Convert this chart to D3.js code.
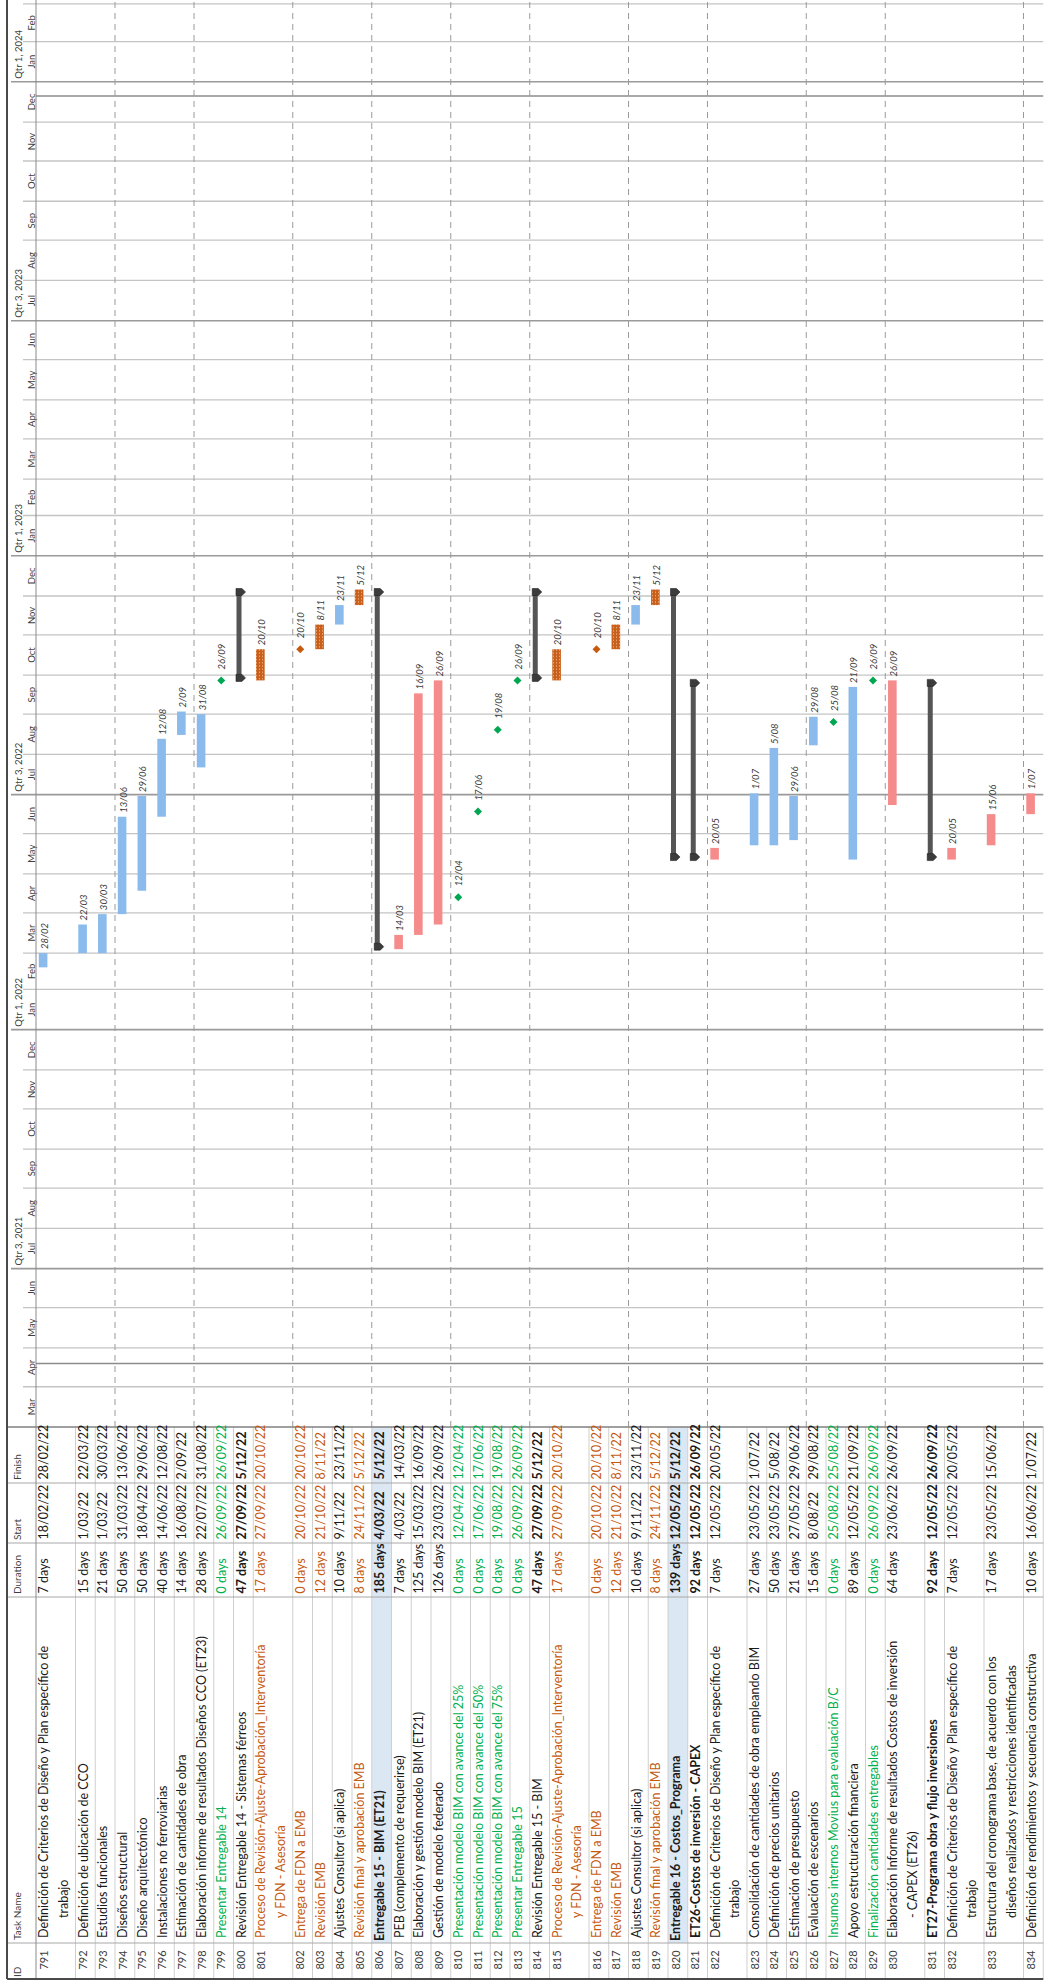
<!DOCTYPE html>
<html>
<head>
<meta charset="utf-8">
<script src="https://cdn.jsdelivr.net/npm/d3@7"></script>
<style>
  body { margin: 0; background: #fff; }
  svg { display: block; }
  text { font-family: Lato, "Liberation Sans", sans-serif; }
</style>
</head>
<body>
<script>
// task table, one entry per row
const ids = [791,792,793,794,795,796,797,798,799,800,801,802,803,804,805,806,807,808,809,810,811,812,813,814,815,816,817,818,819,820,821,822,823,824,825,826,827,828,829,830,831,832,833,834];
const names = [
  "Definición de Criterios de Diseño y Plan específico de", "Definición de ubicación de CCO", "Estudios funcionales",
  "Diseños estructural", "Diseño arquitectónico", "Instalaciones no ferroviarias", "Estimación de cantidades de obra",
  "Elaboración informe de resultados Diseños CCO (ET23)", "Presentar Entregable 14", "Revisión Entregable 14 - Sistemas férreos",
  "Proceso de Revisión-Ajuste-Aprobación_Interventoría", "Entrega de FDN a EMB", "Revisión EMB", "Ajustes Consultor (si aplica)",
  "Revisión final y aprobación EMB", "Entregable 15 - BIM (ET21)", "PEB (complemento de requerirse)",
  "Elaboración y gestión modelo BIM (ET21)", "Gestión de modelo federado", "Presentación modelo BIM con avance del 25%",
  "Presentación modelo BIM con avance del 50%", "Presentación modelo BIM con avance del 75%", "Presentar Entregable 15",
  "Revisión Entregable 15 - BIM", "Proceso de Revisión-Ajuste-Aprobación_Interventoría", "Entrega de FDN a EMB", "Revisión EMB",
  "Ajustes Consultor (si aplica)", "Revisión final y aprobación EMB", "Entregable 16 - Costos_Programa",
  "ET26-Costos de inversión - CAPEX", "Definición de Criterios de Diseño y Plan específico de",
  "Consolidación de cantidades de obra empleando BIM", "Definición de precios unitarios", "Estimación de presupuesto",
  "Evaluación de escenarios", "Insumos internos Movius para evaluación B/C", "Apoyo estructuración financiera",
  "Finalización cantidades entregables", "Elaboración Informe de resultados Costos de inversión",
  "ET27-Programa obra y flujo inversiones", "Definición de Criterios de Diseño y Plan específico de",
  "Estructura del cronograma base, de acuerdo con los", "Definición de rendimientos y secuencia constructiva"
];
// second line of wrapped names
const names2 = {791: "trabajo", 801: "y FDN - Asesoría", 815: "y FDN - Asesoría", 822: "trabajo",
  830: "- CAPEX (ET26)", 832: "trabajo", 833: "diseños realizados y restricciones identificadas"};
const durations = ["7 days","15 days","21 days","50 days","50 days","40 days","14 days","28 days","0 days","47 days",
  "17 days","0 days","12 days","10 days","8 days","185 days","7 days","125 days","126 days","0 days","0 days","0 days",
  "0 days","47 days","17 days","0 days","12 days","10 days","8 days","139 days","92 days","7 days","27 days","50 days",
  "21 days","15 days","0 days","89 days","0 days","64 days","92 days","7 days","17 days","10 days"];
const starts = ["18/02/22","1/03/22","1/03/22","31/03/22","18/04/22","14/06/22","16/08/22","22/07/22","26/09/22","27/09/22",
  "27/09/22","20/10/22","21/10/22","9/11/22","24/11/22","4/03/22","4/03/22","15/03/22","23/03/22","12/04/22","17/06/22",
  "19/08/22","26/09/22","27/09/22","27/09/22","20/10/22","21/10/22","9/11/22","24/11/22","12/05/22","12/05/22","12/05/22",
  "23/05/22","23/05/22","27/05/22","8/08/22","25/08/22","12/05/22","26/09/22","23/06/22","12/05/22","12/05/22","23/05/22",
  "16/06/22"];
const finishes = ["28/02/22","22/03/22","30/03/22","13/06/22","29/06/22","12/08/22","2/09/22","31/08/22","26/09/22","5/12/22",
  "20/10/22","20/10/22","8/11/22","23/11/22","5/12/22","5/12/22","14/03/22","16/09/22","26/09/22","12/04/22","17/06/22",
  "19/08/22","26/09/22","5/12/22","20/10/22","20/10/22","8/11/22","23/11/22","5/12/22","5/12/22","26/09/22","20/05/22",
  "1/07/22","5/08/22","29/06/22","29/08/22","25/08/22","21/09/22","26/09/22","26/09/22","26/09/22","20/05/22","15/06/22",
  "1/07/22"];
// b blue task, p pink task, h hatched review task, g green milestone, o orange milestone, s summary
const kinds = ["b","b","b","b","b","b","b","b","g","s","h","o","h","b","h","s","p","p","p","g","g","g","g","s","h","o",
  "h","b","h","s","s","p","b","b","b","b","g","b","g","p","s","p","p","p"];
const greenRows = [799,810,811,812,813,827,829];
const orangeRows = [801,802,803,805,815,816,817,819];
const boldDateRows = [800,814];
const boldRows = [806,820,821,831];
const highlightRows = [806,820];
const pageBreakAfter = [793,797,801,805,809,813,817,821,825,829,833];
const timeBreaks = ["2021-04-19","2023-12-21"];
const colHeaders = ["ID","Task Name","Duration","Start","Finish"];

// drawing is done sideways, then the whole group is turned
const W = 1986, H = 1045;
const colX = [7, 43, 389, 443, 503, 559];
const pitch = 19.75, rowStart = 36, bottomY = rowStart + 51 * pitch;

const parse = d3.timeParse("%d/%m/%y");
const x = d3.scaleTime()
  .domain([new Date(2021, 2, 1), new Date(2024, 2, 4)])
  .range([559, W]);

const rows = ids.map((id, i) => ({
  id, name: names[i], name2: names2[id] || "", dur: durations[i],
  start: starts[i], finish: finishes[i], kind: kinds[i],
  s: parse(starts[i]), f: d3.timeDay.offset(parse(finishes[i]), 1)
}));
let yy = rowStart;
rows.forEach(r => { r.top = yy; r.h = (r.name2 ? 2 : 1) * pitch; yy += r.h; });

const svg = d3.select("body").append("svg")
  .attr("width", H).attr("height", W);

const defs = svg.append("defs");
const pat = defs.append("pattern").attr("id", "hatch")
  .attr("patternUnits", "userSpaceOnUse").attr("width", 3.2).attr("height", 3);
pat.append("rect").attr("width", 3.2).attr("height", 3).attr("fill", "#c8601c");
pat.append("rect").attr("x", 1).attr("y", 1).attr("width", 1.2).attr("height", 1).attr("fill", "#f3b48a");

const g = svg.append("g").attr("transform", "translate(0," + W + ") rotate(-90)");

// highlighted summary rows
g.selectAll(".hl").data(rows.filter(r => highlightRows.includes(r.id)))
  .enter().append("rect")
  .attr("x", colX[1]).attr("width", colX[5] - colX[1])
  .attr("y", r => r.top).attr("height", r => r.h)
  .attr("fill", "#dce7f4");

// month grid
const months = d3.timeMonth.range(new Date(2021, 3, 1), x.domain()[1]);
g.selectAll(".mline").data(months).enter().append("line")
  .attr("x1", d => x(d)).attr("x2", d => x(d))
  .attr("y1", d => d.getMonth() % 6 === 0 ? 11 : 23).attr("y2", bottomY)
  .attr("stroke", d => d.getMonth() % 6 === 0 ? "#9a9a9a" : "#c4c4c4")
  .attr("stroke-width", d => d.getMonth() % 6 === 0 ? 1.6 : 1.3);

// page break lines
g.selectAll(".tb").data(timeBreaks).enter().append("line")
  .attr("x1", d => x(new Date(d))).attr("x2", d => x(new Date(d)))
  .attr("y1", 36).attr("y2", bottomY)
  .attr("stroke", "#8c8c8c").attr("stroke-width", 1.5);

g.selectAll(".pb").data(rows.filter(r => pageBreakAfter.includes(r.id)))
  .enter().append("line")
  .attr("x1", 559).attr("x2", W)
  .attr("y1", r => r.top + r.h).attr("y2", r => r.top + r.h)
  .attr("stroke", "#9a9a9a").attr("stroke-dasharray", "6,5");

// timescale labels
const allMonths = d3.timeMonth.range(new Date(2021, 2, 1), x.domain()[1]);
g.selectAll(".mlab").data(allMonths.filter(d => x(d3.timeMonth.offset(d, 1)) < W + 5))
  .enter().append("text")
  .attr("x", d => (x(d) + Math.min(W, x(d3.timeMonth.offset(d, 1)))) / 2)
  .attr("y", 34.5).attr("text-anchor", "middle")
  .attr("font-size", 9.5).attr("fill", "#404040")
  .text(d3.timeFormat("%b"));

const halves = d3.timeMonth.every(6).range(new Date(2021, 2, 1), x.domain()[1]);
g.selectAll(".qlab").data(halves).enter().append("text")
  .attr("x", d => x(d) + 3).attr("y", 21.5)
  .attr("font-size", 9.5).attr("fill", "#404040")
  .text(d => "Qtr " + (Math.floor(d.getMonth() / 3) + 1) + ", " + d.getFullYear());

// table lines
g.selectAll(".rline").data(rows).enter().append("line")
  .attr("x1", colX[0]).attr("x2", colX[5])
  .attr("y1", r => r.top + r.h).attr("y2", r => r.top + r.h)
  .attr("stroke", "#cfcfcf");
g.selectAll(".cline").data(colX.slice(1, 5)).enter().append("line")
  .attr("x1", d => d).attr("x2", d => d).attr("y1", 7).attr("y2", bottomY)
  .attr("stroke", "#a8a8a8");
g.append("line").attr("x1", 559).attr("x2", 559).attr("y1", 7).attr("y2", bottomY)
  .attr("stroke", "#808080").attr("stroke-width", 1.5);
g.append("line").attr("x1", 7).attr("x2", W).attr("y1", 36).attr("y2", 36)
  .attr("stroke", "#8a8a8a");
g.append("line").attr("x1", 7).attr("x2", W).attr("y1", 7).attr("y2", 7)
  .attr("stroke", "#4a4a4a").attr("stroke-width", 2);
g.append("line").attr("x1", 7).attr("x2", 7).attr("y1", 7).attr("y2", bottomY)
  .attr("stroke", "#4a4a4a").attr("stroke-width", 2);

// column headers
g.selectAll(".hdr").data(colHeaders).enter().append("text")
  .attr("x", (d, i) => colX[i] + (i === 0 ? 2 : 3)).attr("y", 21)
  .attr("font-size", 10).attr("fill", "#404040")
  .text(d => d);

// cell text
function txtColor(r) {
  if (greenRows.includes(r.id)) return "#00b050";
  if (orangeRows.includes(r.id)) return "#c55a11";
  return "#1a1a1a";
}
const cells = g.selectAll(".cell").data(rows).enter().append("g");
cells.append("text").attr("x", 26).attr("y", r => r.top + 11.5)
  .attr("text-anchor", "middle").attr("font-size", 11).attr("fill", "#404040")
  .text(r => r.id);
cells.append("text").attr("x", r => highlightRows.includes(r.id) ? 45 : 48).attr("y", r => r.top + 12)
  .attr("font-size", 12.5).attr("fill", txtColor)
  .attr("font-weight", r => boldRows.includes(r.id) ? 700 : 400)
  .text(r => r.name);
cells.filter(r => r.name2).append("text").attr("x", 68).attr("y", r => r.top + 12 + pitch)
  .attr("font-size", 12.5).attr("fill", txtColor)
  .text(r => r.name2);
[["dur", 2], ["start", 3], ["finish", 4]].forEach(([k, c]) => {
  cells.append("text").attr("x", colX[c] + 3.5).attr("y", r => r.top + 12)
    .attr("font-size", 12.5).attr("fill", txtColor)
    .attr("font-weight", r => boldRows.includes(r.id) || boldDateRows.includes(r.id) ? 700 : 400)
    .text(r => r[k]);
});

// gantt marks
const tasks = rows.filter(r => "bph".includes(r.kind));
g.selectAll(".bar").data(tasks).enter().append("rect")
  .attr("x", r => x(r.s)).attr("width", r => x(r.f) - x(r.s))
  .attr("y", r => r.top + 2.8).attr("height", 8.6)
  .attr("fill", r => r.kind === "b" ? "#8bbbec" : r.kind === "p" ? "#f58b8a" : "url(#hatch)");

const ms = rows.filter(r => "go".includes(r.kind));
g.selectAll(".ms").data(ms).enter().append("path")
  .attr("d", r => {
    const cx = x(r.f), cy = r.top + 7.5;
    return `M${cx - 4},${cy}L${cx},${cy - 4}L${cx + 4},${cy}L${cx},${cy + 4}Z`;
  })
  .attr("fill", r => r.kind === "g" ? "#00a651" : "#c55a11");

const sums = rows.filter(r => r.kind === "s");
g.selectAll(".sum").data(sums).enter().append("rect")
  .attr("x", r => x(r.s)).attr("width", r => x(r.f) - x(r.s))
  .attr("y", r => r.top + 3).attr("height", 5).attr("fill", "#555555");
function cap(px, t) {
  return `M${px - 3.5},${t + 2.5}L${px + 3.5},${t + 2.5}L${px + 3.5},${t + 8.5}L${px},${t + 12}L${px - 3.5},${t + 8.5}Z`;
}
g.selectAll(".cap0").data(sums).enter().append("path")
  .attr("d", r => cap(x(r.s) + 2.5, r.top)).attr("fill", "#3c3c3c").attr("stroke", "#222").attr("stroke-width", 0.6);
g.selectAll(".cap1").data(sums).enter().append("path")
  .attr("d", r => cap(x(r.f) - 2.5, r.top)).attr("fill", "#3c3c3c").attr("stroke", "#222").attr("stroke-width", 0.6);

// finish date labels
const fmtLab = d3.timeFormat("%-d/%m");
g.selectAll(".lab").data(rows.filter(r => r.kind !== "s")).enter().append("text")
  .attr("x", r => x(r.f) + ("go".includes(r.kind) ? 11 : 4))
  .attr("y", r => r.top + 11.5)
  .attr("font-size", 9.5).attr("font-style", "italic").attr("fill", "#3a3a3a")
  .text(r => fmtLab(parse(r.finish)));
</script>
</body>
</html>
